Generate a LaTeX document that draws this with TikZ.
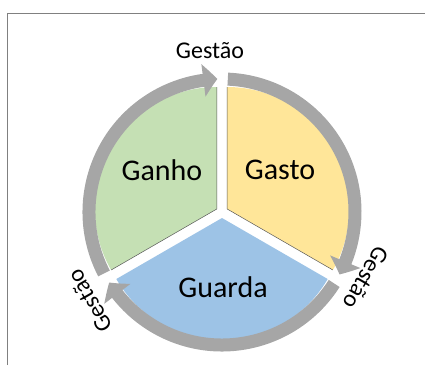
\documentclass[tikz,border=0pt]{standalone}
\usepackage{fontspec}
\setmainfont{Carlito}
\usepackage{tikz}
\usetikzlibrary{arrows.meta,bending}
\definecolor{ganhocol}{HTML}{C5E0B4}
\definecolor{gastocol}{HTML}{FFE699}
\definecolor{guardacol}{HTML}{9DC3E6}
\definecolor{ringcol}{HTML}{A6A6A6}

\begin{document}
\begin{tikzpicture}[x=1pt, y=1pt,
  ring/.style={ringcol, line width=13pt, -{Triangle[width=32pt,length=14pt,bend]}},
  big/.style={font=\fontsize{30}{36}\selectfont},
  gest/.style={font=\fontsize{24}{29}\selectfont}]
 \useasboundingbox (0,0) rectangle (425,365);
 \draw[gray, line width=0.8pt] (7,0) -- (7,352) -- (425,352);
 \coordinate (c) at (222,153);
 \foreach \b/\col in {150/ganhocol, 30/gastocol, 270/guardacol}{
   \coordinate (a\b) at ([shift={(\b:6)}]c);
   \fill[\col] (a\b) -- ++({\b-60}:122) arc[start angle=\b-60, end angle=\b+60, radius=122] -- cycle;
 }
 \draw[black!65, line width=0.5pt] (a150) ++(90:122) -- (a150) -- ++(210:122);
 \draw[black!65, line width=0.5pt] (a30) ++(90:122) -- (a30) -- ++(-30:122);
 \draw[ring] ([shift={(207.5:133)}]c) arc[start angle=207.5, end angle=92, radius=133];
 \draw[ring] ([shift={(87.5:133)}]c) arc[start angle=87.5, end angle=-28, radius=133];
 \draw[ring] ([shift={(-32.5:133)}]c) arc[start angle=-32.5, end angle=-148, radius=133];
 \node[big] (ganho) at (162,195) {Ganho};
 \node[big] (gasto) at (280,195) {Gasto};
 \node[big] (guarda) at (223,78) {Guarda};
 \node[gest] (gtop) at (210,314) {Gestão};
 \node[gest, rotate=-120] (gright) at (366,87) {Gestão};
 \node[gest, rotate=120] (gleft) at (90,64) {Gestão};
\end{tikzpicture}
\end{document}
